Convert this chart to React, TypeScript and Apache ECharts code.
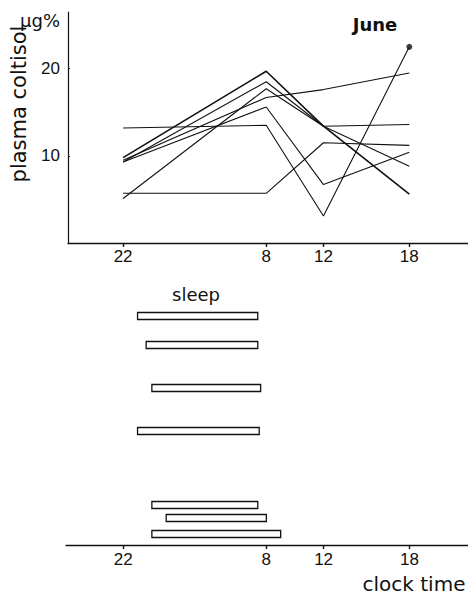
import React, { useEffect, useRef } from "react";
import * as echarts from "echarts";

// clock times of the blood samples
const sampleClock = [22, 8, 12, 18];
// plasma cortisol (µg%) per subject at those clock times
const subjA = [13.2, 13.5, 3.1, 22.5];
const subjB = [5.7, 5.7, 11.5, 11.2];
const subjC = [5.1, 17.7, 13.4, 13.6];
const subjD = [9.3, 15.6, 6.7, 10.4];
const subjE = [9.5, 16.7, 17.6, 19.5];
const subjF = [9.8, 19.7, 13.4, 5.6];
const subjG = [9.3, 18.5, 13.4, 8.8];
const subjects = [subjA, subjB, subjC, subjD, subjE, subjF, subjG];

// y-axis tick labels shown
const yTickLabels = [10, 20];

// sleep periods (clock time) and their row level in the lower panel
const sleepStart = [23.0, 23.6, 0.0, 23.0, 0.0, 1.0, 0.0];
const sleepEnd = [7.4, 7.4, 7.6, 7.5, 7.4, 8.0, 9.0];
const sleepRow = [22.9, 20.0, 15.7, 11.4, 4.0, 2.7, 1.1];

const axisTicks = [22, 8, 12, 18];

const toCont = (h: number) => (h >= 20 ? h : h + 24);

const INK = "#111";
const NUM_FONT = "'Liberation Sans', Arial, sans-serif";
const TXT_FONT = "'DejaVu Sans', sans-serif";

export default function App() {
  const ref = useRef<HTMLDivElement>(null);
  useEffect(() => {
    if (!ref.current) return;
    const chart = echarts.init(ref.current, null, { renderer: "svg" });
    const tickVals = axisTicks.map(toCont);
    const xAxisCommon = (gridIndex: number, min: number, max: number, margin: number) => ({
      type: "value" as const,
      gridIndex,
      min,
      max,
      splitLine: { show: false },
      axisLine: { show: true, lineStyle: { color: INK, width: 1.4 } },
      axisTick: {
        show: true,
        customValues: tickVals,
        length: 4,
        lineStyle: { color: INK, width: 1.4 },
      },
      axisLabel: {
        show: true,
        customValues: tickVals,
        formatter: (v: number) => String(Math.round(v) % 24),
        color: INK,
        fontSize: 17,
        fontFamily: NUM_FONT,
        margin,
      },
    });

    const lineSeries = subjects.map((vals, i) => ({
      type: "line" as const,
      xAxisIndex: 0,
      yAxisIndex: 0,
      symbol: "none",
      data: vals.map((v, j) => [toCont(sampleClock[j]), v]),
      lineStyle: { color: INK, width: i === 5 ? 1.6 : 1.1 },
      silent: true,
    }));

    const sleepData = sleepStart.map((s, i) => [toCont(s), toCont(sleepEnd[i]), sleepRow[i]]);

    chart.setOption({
      animation: false,
      backgroundColor: "#fff",
      grid: [
        { left: 68, top: 12, width: 400, height: 231 },
        { left: 66, top: 290, width: 402, height: 255 },
      ],
      xAxis: [xAxisCommon(0, 18.15, 46.1, 5), xAxisCommon(1, 18.0, 46.09, 6)],
      yAxis: [
        {
          type: "value",
          gridIndex: 0,
          min: 0,
          max: 26.5,
          splitLine: { show: false },
          axisLine: { show: true, lineStyle: { color: INK, width: 1.2 } },
          axisTick: { show: true, inside: true, length: 2, customValues: yTickLabels, lineStyle: { color: INK } },
          axisLabel: {
            color: INK,
            fontSize: 17,
            fontFamily: NUM_FONT,
            margin: 8,
            customValues: yTickLabels,
            formatter: (v: number) => String(v),
          },
        },
        { type: "value", gridIndex: 1, min: 0, max: 25.5, show: false },
      ],
      series: [
        ...lineSeries,
        {
          type: "scatter",
          xAxisIndex: 0,
          yAxisIndex: 0,
          symbolSize: 6,
          itemStyle: { color: INK },
          data: [[toCont(sampleClock[3]), subjA[3]]],
          silent: true,
        },
        {
          type: "custom",
          xAxisIndex: 1,
          yAxisIndex: 1,
          encode: { x: [0, 1], y: 2 },
          data: sleepData,
          silent: true,
          renderItem: (_params: any, api: any) => {
            const a = api.coord([api.value(0), api.value(2)]);
            const b = api.coord([api.value(1), api.value(2)]);
            return {
              type: "rect",
              shape: { x: a[0], y: a[1] - 3.5, width: b[0] - a[0], height: 7 },
              style: { fill: "#fff", stroke: INK, lineWidth: 1.3 },
            };
          },
        },
      ],
      graphic: [
        {
          type: "text",
          x: 20,
          y: 20,
          style: { text: "µg%", font: `18px ${TXT_FONT}`, fill: INK, textVerticalAlign: "middle" },
        },
        {
          type: "text",
          x: 19,
          y: 104,
          rotation: Math.PI / 2,
          style: {
            text: "plasma coltisol",
            font: `21px ${TXT_FONT}`,
            fill: INK,
            textAlign: "center",
            textVerticalAlign: "middle",
          },
        },
        {
          type: "text",
          x: 375,
          y: 24,
          style: {
            text: "June",
            font: `bold 18px ${TXT_FONT}`,
            fill: INK,
            textAlign: "center",
            textVerticalAlign: "middle",
          },
        },
        {
          type: "text",
          x: 196,
          y: 294,
          style: {
            text: "sleep",
            font: `18px ${TXT_FONT}`,
            fill: INK,
            textAlign: "center",
            textVerticalAlign: "middle",
          },
        },
        {
          type: "text",
          x: 414,
          y: 584,
          style: {
            text: "clock time",
            font: `20px ${TXT_FONT}`,
            fill: INK,
            textAlign: "center",
            textVerticalAlign: "middle",
          },
        },
      ],
    });
    return () => chart.dispose();
  }, []);
  return (
    <div
      ref={ref}
      style={{ position: "fixed", left: 0, top: 0, width: 468, height: 596, background: "#fff" }}
    />
  );
}
